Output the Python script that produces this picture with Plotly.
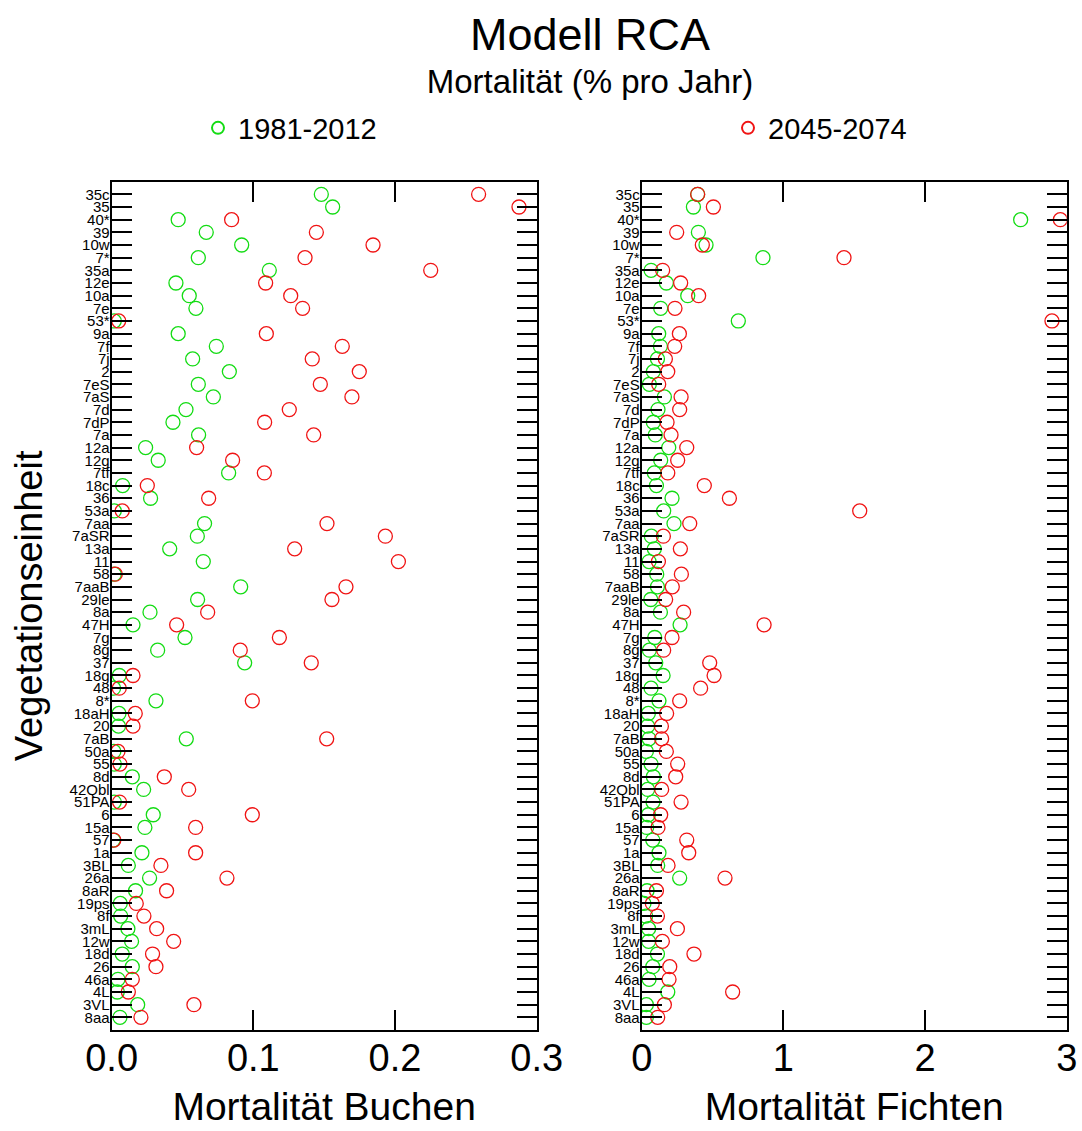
import plotly.graph_objects as go

# ---------------- data ----------------
categories = ["35c", "35", "40*", "39", "10w", "7*", "35a", "12e", "10a", "7e", "53*", "9a",
              "7f", "7j", "2", "7eS", "7aS", "7d", "7dP", "7a", "12a", "12g", "7tf", "18c",
              "36", "53a", "7aa", "7aSR", "13a", "11", "58", "7aaB", "29le", "8a", "47H", "7g",
              "8g", "37", "18g", "48", "8*", "18aH", "20", "7aB", "50a", "55", "8d", "42Qbl",
              "51PA", "6", "15a", "57", "1a", "3BL", "26a", "8aR", "19ps", "8f", "3mL", "12w",
              "18d", "26", "46a", "4L", "3VL", "8aa"]

buchen_1981_2012 = [0.148, 0.156, 0.047, 0.0668, 0.0918, 0.0612, 0.1113, 0.0454, 0.0548, 0.0595,
                    0.0019, 0.047, 0.0739, 0.0572, 0.0831, 0.0612, 0.0718, 0.0525, 0.0433, 0.0614,
                    0.024, 0.0329, 0.0826, 0.0078, 0.0275, 0.0019, 0.0656, 0.0605, 0.041, 0.0647,
                    0.0019, 0.0911, 0.0607, 0.0271, 0.0151, 0.0518, 0.0325, 0.0939, 0.0054, 0.0014,
                    0.0313, 0.0052, 0.0049, 0.0527, 0.0016, 0.0019, 0.0146, 0.0226, 0.0019, 0.0294,
                    0.0235, 0.0012, 0.0214, 0.0118, 0.0268, 0.0169, 0.0061, 0.0064, 0.0115, 0.0141,
                    0.0075, 0.0146, 0.0045, 0.004, 0.0184, 0.0059]

buchen_2045_2074 = [0.259, 0.2875, 0.0847, 0.1445, 0.1845, 0.1365, 0.2252, 0.1087, 0.1264, 0.1348,
                    0.005, 0.1092, 0.1628, 0.1416, 0.1748, 0.1473, 0.1696, 0.1254, 0.108, 0.1426,
                    0.06, 0.0854, 0.1078, 0.0252, 0.0685, 0.0075, 0.152, 0.1932, 0.1292, 0.2024,
                    0.0026, 0.1654, 0.1555, 0.0678, 0.0459, 0.1184, 0.0908, 0.1409, 0.0151, 0.0054,
                    0.0993, 0.0167, 0.0151, 0.1518, 0.0045, 0.0059, 0.0372, 0.0544, 0.0056, 0.0993,
                    0.0593, 0.0016, 0.0593, 0.0348, 0.0814, 0.0388, 0.0174, 0.0228, 0.0318, 0.0438,
                    0.0289, 0.0313, 0.0146, 0.0118, 0.0581, 0.0207]

fichten_1981_2012 = [0.395, 0.365, 2.675, 0.40, 0.454, 0.856, 0.066, 0.174, 0.325, 0.134,
                     0.682, 0.12, 0.132, 0.111, 0.082, 0.054, 0.16, 0.115, 0.082, 0.096,
                     0.191, 0.134, 0.089, 0.104, 0.214, 0.155, 0.228, 0.068, 0.089, 0.052,
                     0.106, 0.111, 0.064, 0.132, 0.271, 0.092, 0.054, 0.099, 0.151, 0.066,
                     0.122, 0.047, 0.042, 0.052, 0.033, 0.066, 0.082, 0.042, 0.08, 0.047,
                     0.035, 0.078, 0.122, 0.113, 0.268, 0.038, 0.016, 0.028, 0.049, 0.049,
                     0.111, 0.078, 0.052, 0.184, 0.033, 0.033]

fichten_2045_2074 = [0.395, 0.506, 2.955, 0.247, 0.428, 1.428, 0.148, 0.275, 0.402, 0.235,
                     2.896, 0.266, 0.233, 0.167, 0.184, 0.12, 0.278, 0.268, 0.179, 0.207,
                     0.318, 0.254, 0.184, 0.442, 0.619, 1.539, 0.339, 0.153, 0.273, 0.118,
                     0.28, 0.216, 0.169, 0.296, 0.864, 0.214, 0.155, 0.48, 0.511, 0.416,
                     0.268, 0.176, 0.139, 0.141, 0.174, 0.254, 0.24, 0.141, 0.278, 0.134,
                     0.115, 0.318, 0.332, 0.186, 0.588, 0.104, 0.075, 0.111, 0.252, 0.146,
                     0.369, 0.198, 0.193, 0.642, 0.16, 0.113]

series_names = ["1981-2012", "2045-2074"]
x_ticks_buchen = [0.0, 0.1, 0.2, 0.3]
x_ticks_fichten = [0, 1, 2, 3]

# ---------------- style ----------------
W, H = 1082, 1131
GREEN = "rgb(20,220,20)"
RED = "rgb(240,20,20)"
FONT = "Liberation Sans, Arial, sans-serif"

def px_x(a, b):
    return [a / W, b / W]

y_dom = [1 - 1030 / H, 1 - 181.7 / H]

fig = go.Figure()

def add(xvals, color, name, xa, ya, show, legend):
    fig.add_trace(go.Scatter(
        x=xvals, y=categories, mode="markers", name=name,
        xaxis=xa, yaxis=ya, showlegend=show, legendgroup=name, legend=legend,
        marker=dict(symbol="circle-open", size=14, color=color, line=dict(width=1.3, color=color)),
    ))

add(buchen_1981_2012, GREEN, series_names[0], "x", "y", True, "legend")
add(buchen_2045_2074, RED, series_names[1], "x", "y", True, "legend2")
add(fichten_1981_2012, GREEN, series_names[0], "x2", "y2", False, "legend")
add(fichten_2045_2074, RED, series_names[1], "x2", "y2", False, "legend2")

xaxis_common = dict(
    showline=True, linecolor="black", linewidth=2, mirror="ticks",
    ticks="inside", ticklen=20, tickwidth=1.5, tickcolor="black",
    showgrid=False, zeroline=False, automargin=False,
    ticklabelstandoff=-7,
    tickfont=dict(family=FONT, size=38, color="black"),
    title_font=dict(family=FONT, size=39, color="black"),
)
yaxis_common = dict(
    type="category", categoryorder="array", categoryarray=categories,
    tickmode="array", tickvals=categories, ticktext=categories,
    range=[66, -1],
    showline=True, linecolor="black", linewidth=2, mirror="ticks",
    ticks="inside", ticklen=20, tickwidth=1.5, tickcolor="black",
    showgrid=False, zeroline=False, automargin=False,
    ticklabelstandoff=-3,
    tickfont=dict(family=FONT, size=15, color="black"),
    domain=y_dom,
)

legend_common = dict(
    orientation="h", yanchor="middle", y=1 - 128 / H, xanchor="left",
    font=dict(family=FONT, size=29, color="black"),
    bgcolor="rgba(0,0,0,0)", itemsizing="constant",
)

fig.update_layout(
    width=W, height=H,
    margin=dict(l=0, r=0, t=0, b=0),
    paper_bgcolor="white", plot_bgcolor="white",
    title=dict(
        text="<span style='font-size:45px'>Modell RCA</span><br>Mortalität (% pro Jahr)",
        font=dict(family=FONT, size=33, color="black"),
        x=590 / W, xanchor="center", y=1 - 50 / H, yanchor="top",
    ),
    xaxis=dict(xaxis_common, domain=px_x(111.6, 536.7), range=[0, 0.3],
               tickvals=x_ticks_buchen, ticktext=["0.0", "0.1", "0.2", "0.3"],
               title=dict(text="Mortalität Buchen")),
    xaxis2=dict(xaxis_common, domain=px_x(641.7, 1066.7), range=[0, 3],
                tickvals=x_ticks_fichten, ticktext=["0", "1", "2", "3"],
                title=dict(text="Mortalität Fichten"), anchor="y2"),
    yaxis=dict(yaxis_common, anchor="x",
               title=dict(text="Vegetationseinheit", font=dict(family=FONT, size=38, color="black"))),
    yaxis2=dict(yaxis_common, anchor="x2"),
    legend=dict(legend_common, x=198 / W),
    legend2=dict(legend_common, x=728 / W),
)

fig.write_html("out.html")
